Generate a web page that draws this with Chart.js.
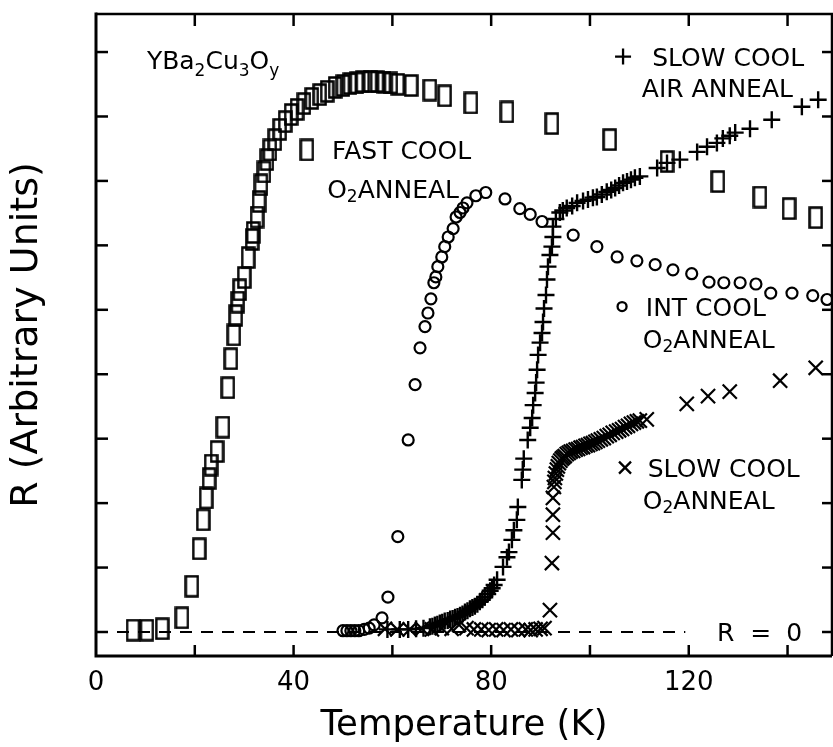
<!DOCTYPE html>
<html><head><meta charset="utf-8">
<script src="https://cdn.jsdelivr.net/npm/chart.js@4"></script>
<style>html,body{margin:0;padding:0;background:#fff}</style>
</head><body>
<canvas id="c" width="833" height="747" style="display:block;width:833px;height:747px"></canvas>
<script>
// ---------- data ----------
const xTicks = [0, 20, 40, 60, 80, 100, 120, 140];
const xTickLabels = {0: '0', 40: '40', 80: '80', 120: '120'};
const yTicks = [0, 1, 2, 3, 4, 5, 6, 7, 8, 9];

// FAST COOL O2 ANNEAL (squares)
const fastCoolO2 = [[7.5,0.03],[10.3,0.03],[13.4,0.05],[17.4,0.22],[19.4,0.71],[20.9,1.29],[21.7,1.74],[22.3,2.08],[22.9,2.38],[23.3,2.59],[24.5,2.80],[25.7,3.18],[26.7,3.79],[27.3,4.24],[27.9,4.61],[28.3,4.91],[28.7,5.12],[29.1,5.31],[30.0,5.50],[30.8,5.81],[31.6,6.09],[31.8,6.20],[32.6,6.44],[33.0,6.68],[33.4,6.94],[34.0,7.14],[34.6,7.33],[35.2,7.48],[36.2,7.64],[37.2,7.80],[38.3,7.92],[39.5,8.03],[40.7,8.11],[42.1,8.20],[43.7,8.28],[45.3,8.34],[46.8,8.39],[48.4,8.45],[50.0,8.48],[51.4,8.51],[52.8,8.52],[54.0,8.54],[55.5,8.54],[56.9,8.54],[58.3,8.53],[59.7,8.52],[61.1,8.50],[63.8,8.48],[67.6,8.41],[70.6,8.32],[75.9,8.21],[83.2,8.07],[92.3,7.89],[104.0,7.64],[115.6,7.30],[125.9,6.99],[134.4,6.75],[140.3,6.57],[145.7,6.43]];

// INT COOL O2 ANNEAL (circles)
const intCoolO2 = [[50.0,0.02],[50.8,0.02],[51.6,0.02],[52.4,0.02],[53.2,0.02],[54.3,0.04],[55.3,0.06],[56.3,0.11],[57.9,0.22],[59.1,0.54],[61.1,1.48],[63.2,2.98],[64.6,3.84],[65.6,4.41],[66.6,4.74],[67.2,4.95],[67.8,5.17],[68.4,5.42],[68.8,5.51],[69.2,5.67],[70.0,5.82],[70.6,5.98],[71.3,6.13],[72.3,6.26],[72.9,6.44],[73.7,6.51],[74.3,6.58],[75.1,6.66],[76.9,6.77],[78.9,6.82],[82.8,6.72],[85.8,6.57],[87.9,6.48],[90.3,6.37],[96.6,6.16],[101.4,5.98],[105.5,5.82],[109.5,5.76],[113.2,5.70],[116.8,5.62],[120.6,5.56],[124.1,5.43],[127.1,5.42],[130.4,5.42],[133.6,5.40],[136.6,5.26],[140.9,5.26],[145.1,5.22],[148.0,5.16]];

// SLOW COOL AIR ANNEAL (plus)
const slowCoolAir = [[59.0,0.04],[61.5,0.04],[63.2,0.04],[64.8,0.05],[66.3,0.06],[67.6,0.08],[68.1,0.09],[68.6,0.11],[69.1,0.12],[69.6,0.14],[70.1,0.15],[70.6,0.17],[71.2,0.18],[71.7,0.20],[72.2,0.21],[72.7,0.23],[73.2,0.24],[73.7,0.26],[74.2,0.28],[74.7,0.31],[75.2,0.33],[75.7,0.36],[76.2,0.38],[76.7,0.40],[77.2,0.43],[77.7,0.47],[78.2,0.50],[78.7,0.54],[79.3,0.59],[79.8,0.64],[80.2,0.68],[80.6,0.73],[81.2,0.81],[82.4,1.01],[83.2,1.16],[83.6,1.24],[84.2,1.43],[84.6,1.58],[85.2,1.74],[85.4,1.94],[86.2,2.36],[86.4,2.52],[86.6,2.69],[87.4,2.98],[87.9,3.17],[88.3,3.32],[88.5,3.52],[88.9,3.71],[89.1,3.87],[89.3,4.07],[89.5,4.30],[89.9,4.49],[90.3,4.64],[90.5,4.81],[90.7,5.02],[91.1,5.23],[91.3,5.47],[91.5,5.67],[91.9,5.85],[92.3,5.98],[92.5,6.13],[92.5,6.29],[93.1,6.41],[93.9,6.51],[94.5,6.54],[95.3,6.58],[96.4,6.61],[97.4,6.66],[98.6,6.69],[99.6,6.71],[100.6,6.74],[101.4,6.75],[102.4,6.79],[103.4,6.83],[104.3,6.86],[105.1,6.89],[105.9,6.93],[106.7,6.97],[107.5,6.99],[108.3,7.02],[109.1,7.05],[110.1,7.07],[113.6,7.20],[115.6,7.28],[118.2,7.33],[121.7,7.45],[123.7,7.53],[125.7,7.59],[126.9,7.66],[128.3,7.70],[129.4,7.75],[132.4,7.81],[136.8,7.95],[142.9,8.15],[146.2,8.26]];

// SLOW COOL O2 ANNEAL (x)
const slowCoolO2 = [[58.5,0.05],[61.0,0.04],[63.5,0.04],[66.0,0.05],[68.0,0.04],[70.0,0.06],[72.0,0.05],[73.5,0.11],[75.0,0.06],[76.5,0.04],[78.0,0.04],[79.5,0.03],[81.0,0.04],[82.5,0.03],[84.0,0.04],[85.5,0.03],[87.0,0.04],[88.0,0.03],[89.0,0.04],[90.0,0.05],[90.8,0.06],[91.9,0.34],[92.3,1.07],[92.5,1.54],[92.5,1.82],[92.5,2.08],[92.7,2.25],[92.8,2.33],[92.9,2.39],[93.1,2.46],[93.3,2.52],[93.5,2.57],[93.7,2.62],[94.0,2.66],[94.3,2.69],[94.6,2.71],[94.9,2.73],[95.3,2.76],[95.7,2.78],[96.1,2.80],[96.6,2.81],[97.1,2.83],[97.6,2.84],[98.1,2.86],[98.6,2.87],[99.1,2.89],[99.6,2.90],[100.1,2.92],[100.6,2.93],[101.1,2.95],[101.6,2.97],[102.2,2.99],[102.8,3.01],[103.4,3.04],[104.0,3.06],[104.6,3.09],[105.3,3.11],[105.9,3.13],[106.5,3.15],[107.1,3.18],[107.7,3.20],[108.3,3.23],[108.9,3.25],[109.5,3.27],[110.1,3.28],[111.5,3.30],[119.6,3.54],[123.9,3.66],[128.3,3.73],[138.5,3.90],[145.7,4.10]];

// R = 0 reference line extent
const zeroLine = [[0, 0], [119.3, 0]];

// ---------- rendering ----------
const FONT = '"DejaVu Sans", sans-serif';
Chart.defaults.font.family = FONT;
Chart.defaults.color = '#000';

function makeRect() {
  const c = document.createElement('canvas');
  c.width = 15; c.height = 23;
  const g = c.getContext('2d');
  g.strokeStyle = '#000'; g.lineWidth = 2.5;
  g.strokeRect(1.5, 1.5, 12, 20);
  return c;
}
const rectImg = makeRect();

const toXY = arr => arr.map(p => ({x: p[0], y: p[1]}));

const yMin = -24 / 64.44, yMax = 618 / 64.44, xMax = 149.0;

function fixTicks(vals) { return s => { s.ticks = vals.map(v => ({value: v})); }; }

function richText(ctx, parts, x, yc, size) {
  const base = yc + 0.365 * size;
  let cx = x;
  for (const p of parts) {
    const s = p.sub ? Math.round(size * 0.68) : size;
    ctx.font = s + 'px ' + FONT;
    ctx.fillText(p.t, cx, base + (p.dy || 0));
    cx += ctx.measureText(p.t).width + (p.gap || 0);
  }
}

const annotations = [
  {x: 10.3, y: 8.88, parts: [{t:'YBa'},{t:'2',sub:true,dy:7},{t:'Cu'},{t:'3',sub:true,dy:7},{t:'O'},{t:'y',sub:true,dy:7}]},
  {x: 47.8, y: 7.48, parts: [{t:'FAST COOL'}]},
  {x: 46.8, y: 6.88, parts: [{t:'O'},{t:'2',sub:true,dy:4},{t:'ANNEAL'}]},
  {x: 112.6, y: 8.93, parts: [{t:'SLOW COOL'}]},
  {x: 110.5, y: 8.45, parts: [{t:'AIR ANNEAL'}]},
  {x: 111.3, y: 5.05, parts: [{t:'INT COOL'}]},
  {x: 110.7, y: 4.55, parts: [{t:'O'},{t:'2',sub:true,dy:4},{t:'ANNEAL'}]},
  {x: 111.7, y: 2.55, parts: [{t:'SLOW COOL'}]},
  {x: 110.7, y: 2.05, parts: [{t:'O'},{t:'2',sub:true,dy:4},{t:'ANNEAL'}]},
  {x: 125.7, y: 0, parts: [{t:'R', gap: 16},{t:'=', gap: 15},{t:'0'}]}
];
const legendMarks = [
  {x: 42.7, y: 7.48, type: 'rect'},
  {x: 106.7, y: 8.93, type: 'plus'},
  {x: 106.5, y: 5.05, type: 'circle'},
  {x: 107.1, y: 2.55, type: 'x'}
];

const framePlugin = {
  id: 'frame',
  beforeDatasetsDraw(chart) {
    const {ctx, chartArea: a, scales} = chart;
    ctx.save();
    ctx.strokeStyle = '#000';
    const line = (x1, y1, x2, y2) => { ctx.beginPath(); ctx.moveTo(x1, y1); ctx.lineTo(x2, y2); ctx.stroke(); };
    ctx.lineWidth = 3;
    ctx.beginPath(); ctx.moveTo(a.left, a.top - 1.5); ctx.lineTo(a.left, a.bottom); ctx.lineTo(a.right, a.bottom); ctx.stroke();
    ctx.lineWidth = 2.5;
    ctx.beginPath(); ctx.moveTo(a.left, a.top); ctx.lineTo(a.right, a.top); ctx.lineTo(a.right, a.bottom); ctx.stroke();
    ctx.lineWidth = 2.5;
    xTicks.forEach(v => {
      if (v <= 0) return;
      const px = scales.x.getPixelForValue(v);
      line(px, a.bottom, px, a.bottom - 11);
      line(px, a.top, px, a.top + 12);
    });
    yTicks.forEach(v => {
      const py = scales.y.getPixelForValue(v);
      line(a.left, py, a.left + 12, py);
      line(a.right, py, a.right - 10, py);
    });
    ctx.restore();
  },
  afterDatasetsDraw(chart) {
    const {ctx, scales} = chart;
    ctx.save();
    ctx.fillStyle = '#000';
    ctx.textBaseline = 'alphabetic';
    ctx.textAlign = 'left';
    annotations.forEach(a => richText(ctx, a.parts, scales.x.getPixelForValue(a.x), scales.y.getPixelForValue(a.y), 25));
    ctx.strokeStyle = '#000';
    legendMarks.forEach(m => {
      const px = scales.x.getPixelForValue(m.x), py = scales.y.getPixelForValue(m.y);
      ctx.lineWidth = 2.3;
      if (m.type === 'rect') {
        ctx.drawImage(rectImg, px - rectImg.width / 2, py - rectImg.height / 2);
      } else if (m.type === 'plus') {
        ctx.beginPath(); ctx.moveTo(px - 8, py); ctx.lineTo(px + 8, py); ctx.moveTo(px, py - 8); ctx.lineTo(px, py + 8); ctx.stroke();
      } else if (m.type === 'circle') {
        ctx.beginPath(); ctx.arc(px, py, 4.5, 0, Math.PI * 2); ctx.stroke();
      } else {
        ctx.beginPath(); ctx.moveTo(px - 6, py - 6); ctx.lineTo(px + 6, py + 6); ctx.moveTo(px + 6, py - 6); ctx.lineTo(px - 6, py + 6); ctx.stroke();
      }
    });
    ctx.restore();
  }
};

new Chart(document.getElementById('c'), {
  type: 'scatter',
  data: {
    datasets: [
      {label: 'FAST COOL O2 ANNEAL', data: toXY(fastCoolO2), pointStyle: rectImg, pointRadius: 7, borderColor: '#000', backgroundColor: 'rgba(0,0,0,0)', showLine: false},
      {label: 'INT COOL O2 ANNEAL', data: toXY(intCoolO2), pointStyle: 'circle', pointRadius: 5.5, pointBorderWidth: 2.2, borderColor: '#000', backgroundColor: 'rgba(0,0,0,0)', showLine: false},
      {label: 'SLOW COOL AIR ANNEAL', data: toXY(slowCoolAir), pointStyle: 'cross', pointRadius: 8.5, pointBorderWidth: 2.4, borderColor: '#000', backgroundColor: 'rgba(0,0,0,0)', showLine: false},
      {label: 'SLOW COOL O2 ANNEAL', data: toXY(slowCoolO2), pointStyle: 'crossRot', pointRadius: 10, pointBorderWidth: 2.2, borderColor: '#000', backgroundColor: 'rgba(0,0,0,0)', showLine: false},
      {type: 'line', label: 'R = 0', data: toXY(zeroLine), borderColor: '#000', borderWidth: 2.2, borderDash: [12, 9], pointRadius: 0, fill: false}
    ]
  },
  options: {
    responsive: false,
    animation: false,
    devicePixelRatio: 1,
    layout: {padding: 0, autoPadding: false},
    plugins: {legend: {display: false}, tooltip: {enabled: false}, title: {display: false}},
    scales: {
      x: {
        type: 'linear', position: 'bottom', min: 0, max: xMax,
        afterBuildTicks: fixTicks(xTicks),
        afterFit: s => { s.height = 91; },
        grid: {display: false, drawTicks: false}, border: {display: false},
        ticks: {autoSkip: false, maxRotation: 0, padding: 12, font: {size: 26}, color: '#000',
                callback: v => (xTickLabels[v] !== undefined ? xTickLabels[v] : '')},
        title: {display: true, text: 'Temperature (K)', font: {size: 35.5}, color: '#000', padding: {top: 0, bottom: 0}}
      },
      x2: {
        type: 'linear', position: 'top', min: 0, max: xMax,
        afterBuildTicks: fixTicks(xTicks),
        afterFit: s => { s.height = 14; },
        grid: {display: false, drawTicks: false}, border: {display: false},
        ticks: {display: false}
      },
      y: {
        type: 'linear', position: 'left', min: yMin, max: yMax,
        afterBuildTicks: fixTicks(yTicks),
        afterFit: s => { s.width = 96; },
        grid: {display: false, drawTicks: false}, border: {display: false},
        ticks: {display: false},
        title: {display: true, text: 'R (Arbitrary Units)', font: {size: 38}, color: '#000', padding: {top: 4, bottom: 0}}
      },
      y2: {
        type: 'linear', position: 'right', min: yMin, max: yMax,
        afterBuildTicks: fixTicks(yTicks),
        afterFit: s => { s.width = 1; },
        grid: {display: false, drawTicks: false}, border: {display: false},
        ticks: {display: false}
      }
    }
  },
  plugins: [framePlugin]
});
</script>
</body></html>
